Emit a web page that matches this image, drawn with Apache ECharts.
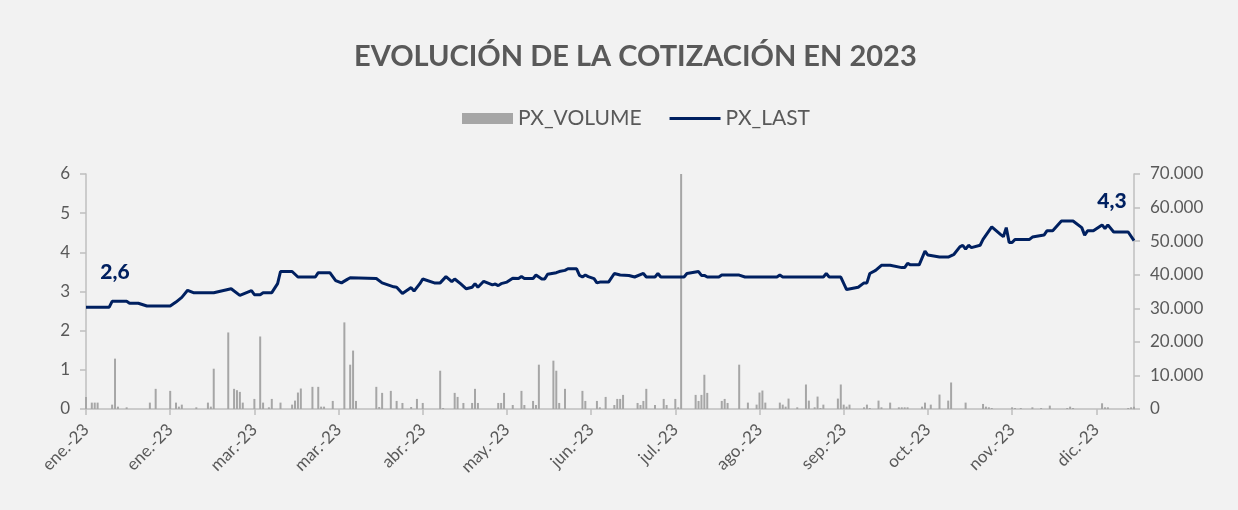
<!DOCTYPE html>
<html>
<head>
<meta charset="utf-8">
<script src="https://cdn.jsdelivr.net/npm/echarts@6/dist/echarts.min.js"></script>
<style>
  html, body { margin: 0; padding: 0; background: #f2f2f2; }
  #chart { width: 1238px; height: 510px; }
</style>
</head>
<body>
<div id="chart"></div>
<script>
// PX_LAST (left axis), dates in 2023 (MM-DD)
const priceDates = [
  '01-02','01-10','01-11','01-16','01-17','01-20','01-23','01-31','02-02','02-04',
  '02-06','02-08','02-15','02-21','02-24','02-28','03-01','03-03','03-04','03-07',
  '03-09','03-10','03-14','03-16','03-22','03-23','03-27','03-29','03-31','04-02',
  '04-03','04-12','04-14','04-18','04-19','04-21','04-24','04-25','04-27','04-28',
  '05-02','05-04','05-06','05-08','05-09','05-11','05-13','05-15','05-16','05-17',
  '05-19','05-22','05-23','05-24','05-25','05-27','05-29','05-31','06-01','06-02',
  '06-05','06-06','06-08','06-09','06-10','06-13','06-14','06-16','06-17','06-20',
  '06-21','06-22','06-23','06-24','06-26','06-27','06-28','07-01','07-03','07-05',
  '07-08','07-10','07-13','07-14','07-17','07-18','07-19','07-27','07-28','08-01',
  '08-02','08-03','08-04','08-08','08-09','08-15','08-17','08-28','08-29','08-30',
  '09-13','09-14','09-15','09-19','09-21','09-25','09-27','09-28','09-29','10-01',
  '10-03','10-06','10-10','10-11','10-12','10-13','10-16','10-18','10-19','10-23',
  '10-26','10-28','10-30','10-31','11-01','11-02','11-03','11-06','11-07','11-10',
  '11-13','11-14','11-15','11-16','11-17','11-18','11-23','11-24','11-28','11-29',
  '12-01','12-04','12-08','12-11','12-12','12-13','12-15','12-18','12-19','12-20',
  '12-22','12-27','12-29'
];
const priceValues = [
  2.6, 2.6, 2.75, 2.75, 2.7, 2.7, 2.63, 2.63, 2.73, 2.85,
  3.03, 2.97, 2.97, 3.07, 2.9, 3.02, 2.92, 2.92, 2.97, 2.97,
  3.2, 3.51, 3.51, 3.37, 3.37, 3.48, 3.48, 3.28, 3.22, 3.31,
  3.35, 3.33, 3.22, 3.12, 3.11, 2.95, 3.1, 3.01, 3.2, 3.32,
  3.22, 3.22, 3.38, 3.25, 3.32, 3.2, 3.07, 3.11, 3.2, 3.11,
  3.26, 3.17, 3.19, 3.15, 3.2, 3.24, 3.34, 3.33, 3.38, 3.33,
  3.33, 3.42, 3.32, 3.32, 3.44, 3.48, 3.51, 3.54, 3.58, 3.58,
  3.41, 3.37, 3.42, 3.38, 3.33, 3.22, 3.24, 3.24, 3.46, 3.42,
  3.41, 3.37, 3.46, 3.37, 3.37, 3.46, 3.37, 3.37, 3.46, 3.51,
  3.41, 3.41, 3.37, 3.37, 3.42, 3.42, 3.37, 3.37, 3.42, 3.37,
  3.37, 3.46, 3.37, 3.37, 3.05, 3.11, 3.22, 3.22, 3.46, 3.54,
  3.67, 3.67, 3.61, 3.61, 3.72, 3.68, 3.68, 4.03, 3.93, 3.88,
  3.88, 3.95, 4.14, 4.18, 4.08, 4.18, 4.12, 4.18, 4.33, 4.65,
  4.46, 4.4, 4.63, 4.25, 4.25, 4.33, 4.33, 4.39, 4.44, 4.55,
  4.55, 4.8, 4.8, 4.63, 4.44, 4.55, 4.55, 4.7, 4.61, 4.7,
  4.52, 4.52, 4.3
];

// PX_VOLUME (right axis)
const volumeDates = [
  '01-02','01-04','01-05','01-06','01-11','01-12','01-13','01-16','01-24','01-26',
  '01-31','02-02','02-03','02-04','02-09','02-13','02-14','02-15','02-20','02-22',
  '02-23','02-24','02-25','03-01','03-03','03-04','03-06','03-07','03-10','03-14',
  '03-15','03-16','03-17','03-21','03-23','03-24','03-25','03-28','04-01','04-03',
  '04-04','04-05','04-12','04-13','04-14','04-17','04-19','04-21','04-24','04-26',
  '04-28','05-04','05-05','05-09','05-10','05-12','05-15','05-16','05-17','05-24',
  '05-25','05-26','05-29','06-01','06-02','06-05','06-06','06-07','06-12','06-13',
  '06-14','06-16','06-22','06-23','06-27','06-28','06-30','07-03','07-04','07-05',
  '07-06','07-11','07-12','07-13','07-14','07-17','07-20','07-21','07-24','07-25',
  '07-26','07-31','08-01','08-02','08-03','08-04','08-09','08-10','08-11','08-15',
  '08-18','08-21','08-22','08-23','08-24','08-29','08-30','08-31','09-01','09-04',
  '09-07','09-08','09-10','09-11','09-12','09-13','09-18','09-19','09-20','09-21',
  '09-22','09-27','09-28','09-29','10-02','10-03','10-06','10-09','10-10','10-11',
  '10-12','10-17','10-18','10-20','10-23','10-26','10-27','11-01','11-07','11-08',
  '11-09','11-10','11-17','11-18','11-20','11-24','11-27','11-30','12-06','12-07',
  '12-08','12-18','12-19','12-20','12-27','12-28','12-29'
];
const volumeValues = [
  3600, 1900, 1900, 1900, 1300, 15000, 700, 500, 1900, 6000,
  5400, 1900, 700, 1300, 500, 1900, 700, 12000, 22800, 6000,
  5600, 5100, 1900, 3000, 21600, 1900, 500, 3000, 1900, 1300,
  2500, 4900, 6100, 6600, 6600, 700, 700, 2400, 25800, 13200,
  17400, 2400, 6600, 600, 4800, 5400, 2400, 1800, 600, 3000,
  1800, 11400, 300, 4800, 3600, 1800, 1800, 6000, 1800, 1800,
  1800, 4800, 1200, 5400, 1200, 2400, 1200, 13200, 14400, 11400,
  1800, 6000, 5400, 2400, 2400, 500, 3600, 1200, 3000, 3000,
  4200, 1800, 1200, 2400, 6000, 1200, 3000, 1200, 3000, 500,
  70000, 4200, 2400, 4200, 10200, 4800, 2400, 3000, 1800, 13200,
  1900, 1300, 4900, 5500, 1900, 1900, 1300, 700, 3100, 500,
  7300, 2500, 500, 3700, 300, 1300, 3100, 7300, 1300, 700,
  1300, 500, 1300, 300, 2500, 500, 1900, 500, 500, 500,
  500, 700, 1900, 1300, 4300, 2500, 7900, 1900, 1500, 700,
  500, 300, 500, 300, 300, 500, 300, 1000, 300, 700,
  300, 1700, 500, 500, 300, 500, 700
];

const monthNames = ['ene.', 'feb.', 'mar.', 'abr.', 'may.', 'jun.', 'jul.', 'ago.', 'sep.', 'oct.', 'nov.', 'dic.'];
const firstDay = Date.UTC(2023, 0, 2);
const lastDay = Date.UTC(2023, 11, 29);

// days since 2 Jan 2023
const dayOf = (s) => {
  const [m, d] = s.split('-').map(Number);
  return Math.round((Date.UTC(2023, m - 1, d) - firstDay) / 864e5);
};
const thousands = (v) => String(v).replace(/\B(?=(\d{3})+(?!\d))/g, '.');
const comma = (v) => v.toFixed(1).replace('.', ',');

const priceData = priceDates.map((d, i) => [dayOf(d), priceValues[i]]);
const volumeData = volumeDates.map((d, i) => [dayOf(d), volumeValues[i]]);
const lastIdx = priceData.length - 1;

const font = 'Lato';
const grey = '#595959';
const axisGrey = '#bfbfbf';
const navy = '#002060';

const chart = echarts.init(document.getElementById('chart'));

chart.setOption({
  backgroundColor: '#f2f2f2',
  animation: false,
  textStyle: { fontFamily: font },
  title: {
    text: 'EVOLUCIÓN DE LA COTIZACIÓN EN 2023',
    left: 349,
    top: 37,
    textStyle: { fontFamily: font, fontSize: 29, fontWeight: 'bold', color: grey }
  },
  legend: {
    top: 103,
    left: 457,
    itemWidth: 51,
    itemHeight: 11,
    itemGap: 28,
    data: [
      { name: 'PX_VOLUME', icon: 'rect' },
      { name: 'PX_LAST', icon: 'path://M0,0 L50,0 L50,3 L0,3 Z' }
    ],
    textStyle: { fontFamily: font, fontSize: 21, color: grey }
  },
  grid: { left: 86, right: 104, top: 174, bottom: 101 },
  xAxis: {
    type: 'value',
    min: 0,
    max: Math.round((lastDay - firstDay) / 864e5),
    interval: 29,
    splitLine: { show: false },
    axisLine: { lineStyle: { color: axisGrey, width: 1.5 } },
    axisTick: { show: true, length: 6, lineStyle: { color: axisGrey, width: 1.5 } },
    axisLabel: {
      rotate: 45,
      margin: 18,
      showMaxLabel: false,
      fontSize: 17,
      color: grey,
      formatter: (v) => monthNames[new Date(firstDay + v * 864e5).getUTCMonth()] + '-23'
    }
  },
  yAxis: [
    {
      type: 'value',
      min: 0,
      max: 6,
      interval: 1,
      splitLine: { show: false },
      axisLine: { show: true, lineStyle: { color: axisGrey, width: 1.5 } },
      axisTick: { show: true, length: 6, lineStyle: { color: axisGrey, width: 1.5 } },
      axisLabel: { margin: 16, fontSize: 17, color: grey }
    },
    {
      type: 'value',
      min: 0,
      max: 70000,
      interval: 10000,
      position: 'right',
      splitLine: { show: false },
      axisLine: { show: true, lineStyle: { color: axisGrey, width: 1.5 } },
      axisTick: { show: true, length: 6, lineStyle: { color: axisGrey, width: 1.5 } },
      axisLabel: { margin: 16, fontSize: 17, color: grey, formatter: thousands }
    }
  ],
  series: [
    {
      name: 'PX_VOLUME',
      type: 'bar',
      yAxisIndex: 1,
      barWidth: 2,
      clip: true,
      itemStyle: { color: '#a6a6a6' },
      data: volumeData
    },
    {
      name: 'PX_LAST',
      type: 'line',
      yAxisIndex: 0,
      symbol: 'none',
      lineStyle: { color: navy, width: 3 },
      itemStyle: { color: navy },
      data: priceData
    },
    {
      // first and last price labels
      name: 'labels',
      type: 'scatter',
      yAxisIndex: 0,
      symbolSize: 0,
      silent: true,
      itemStyle: { color: navy, opacity: 1 },
      data: [
        { value: priceData[0], label: { offset: [29, -35] } },
        { value: priceData[lastIdx], label: { offset: [-22, -39] } }
      ],
      label: {
        show: true,
        position: 'inside',
        fontFamily: font,
        fontSize: 21,
        fontWeight: 900,
        color: navy,
        textBorderWidth: 0,
        formatter: (p) => comma(p.value[1])
      }
    }
  ]
});

window.addEventListener('resize', () => {
  chart.resize();
});
</script>
</body>
</html>
